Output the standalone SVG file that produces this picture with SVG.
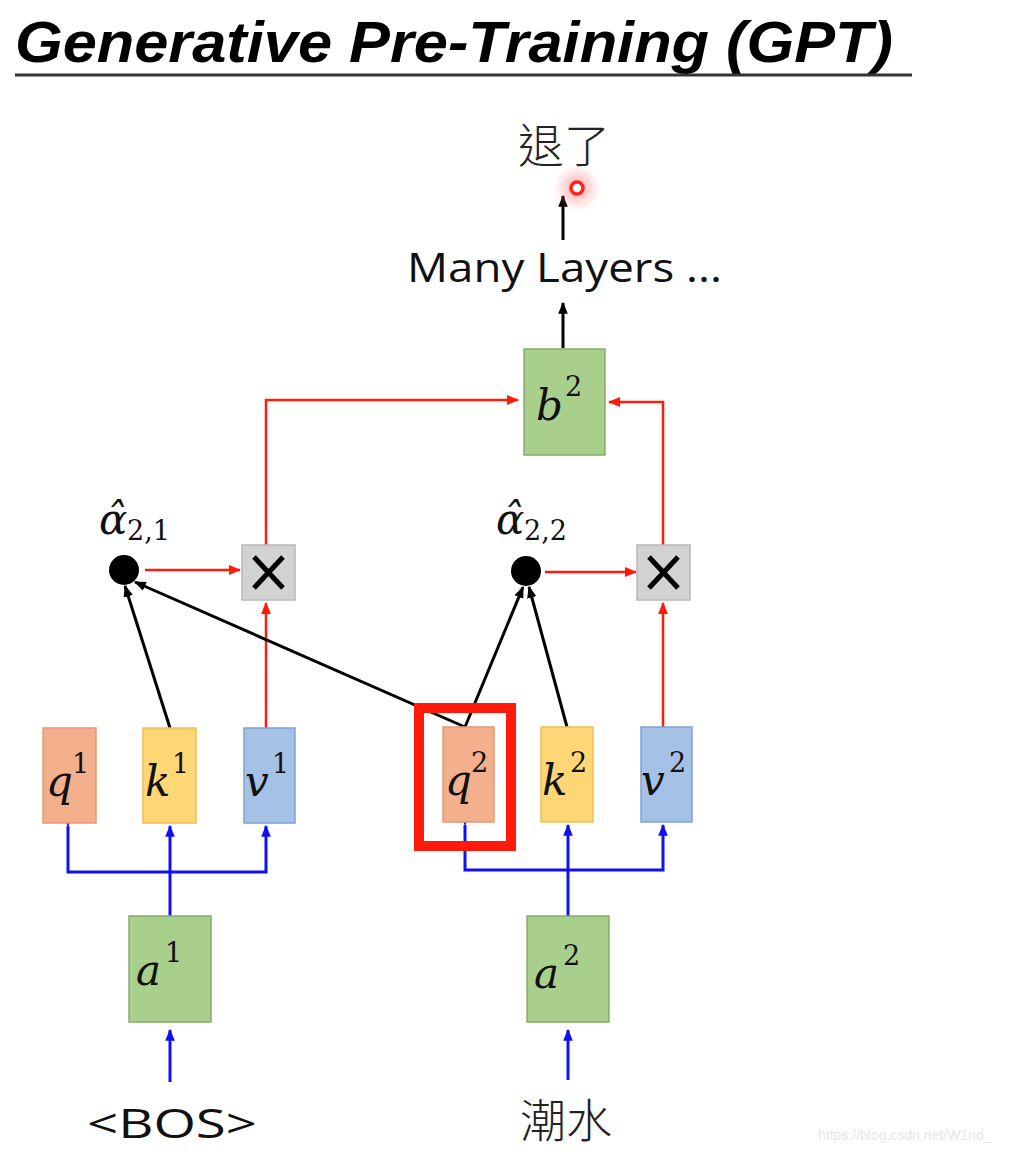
<svg xmlns="http://www.w3.org/2000/svg" width="1023" height="1152" viewBox="0 0 1023 1152">
<defs>
<style>
.title{font-family:"Liberation Sans","Open Sans",sans-serif;font-weight:bold;font-style:italic;font-size:58px;fill:#000}
.lbl{font-family:"Open Sans","Liberation Sans",sans-serif;font-size:40px;fill:#111}
.cjk{font-family:"Noto Sans CJK TC","Noto Sans CJK SC",sans-serif;font-size:46px;fill:#222}
.m{font-family:"DejaVu Serif","Liberation Serif",serif;font-style:italic;font-size:42px;fill:#111}
.sup{font-family:"DejaVu Serif","Liberation Serif",serif;font-size:27px;fill:#111}
.green{fill:#a9cf8d;stroke:#86ab6c;stroke-width:1.5}
.q{fill:#f4b08c;stroke:#e59a72;stroke-width:1.5}
.k{fill:#ffd675;stroke:#f0c050;stroke-width:1.5}
.v{fill:#a6c1e6;stroke:#7fa3d2;stroke-width:1.5}
.x{fill:#d2d2d2;stroke:#b8b8b8;stroke-width:1.5}
.red{stroke:#ff1a0a;stroke-width:2.5;fill:none}
.blue{stroke:#1010f0;stroke-width:3;fill:none}
.blk{stroke:#000;stroke-width:3;fill:none}
</style>
<marker id="ar" viewBox="0 0 10 10" refX="9" refY="5" markerWidth="5" markerHeight="5" orient="auto" markerUnits="strokeWidth"><path d="M0,1 L10,5 L0,9 z" fill="#ff1a0a"/></marker>
<marker id="ab" viewBox="0 0 10 10" refX="9" refY="5" markerWidth="4" markerHeight="4" orient="auto" markerUnits="strokeWidth"><path d="M0,1 L10,5 L0,9 z" fill="#1010f0"/></marker>
<marker id="ak" viewBox="0 0 10 10" refX="9" refY="5" markerWidth="4" markerHeight="4" orient="auto" markerUnits="strokeWidth"><path d="M0,1 L10,5 L0,9 z" fill="#000"/></marker>
<radialGradient id="glow"><stop offset="0" stop-color="#ff5050" stop-opacity="0.55"/><stop offset="0.6" stop-color="#ff8080" stop-opacity="0.25"/><stop offset="1" stop-color="#ffa0a0" stop-opacity="0"/></radialGradient>
</defs>
<rect width="1023" height="1152" fill="#fff"/>

<g id="title">
<text class="title" x="15" y="62" textLength="878" lengthAdjust="spacingAndGlyphs">Generative Pre-Training (GPT)</text>
<line x1="15" y1="75" x2="912" y2="75" stroke="#333" stroke-width="3"/>
</g>

<g id="connectors">
<line class="blk" x1="563" y1="240" x2="563" y2="196" marker-end="url(#ak)"/>
<line class="blk" x1="563" y1="348" x2="563" y2="303" marker-end="url(#ak)"/>
<polyline class="red" points="266,545 266,400 518,400" marker-end="url(#ar)"/>
<polyline class="red" points="663,545 663,402 609,402" marker-end="url(#ar)"/>
<line class="red" x1="145" y1="570" x2="240" y2="570" marker-end="url(#ar)"/>
<line class="red" x1="545" y1="572" x2="636" y2="572" marker-end="url(#ar)"/>
<line class="red" x1="266" y1="728" x2="266" y2="603" marker-end="url(#ar)"/>
<line class="red" x1="663" y1="727" x2="663" y2="603" marker-end="url(#ar)"/>
<line class="blk" x1="170" y1="728" x2="125" y2="586" marker-end="url(#ak)"/>
<line class="blk" x1="465" y1="727" x2="135" y2="582" marker-end="url(#ak)"/>
<line class="blk" x1="465" y1="727" x2="523" y2="587" marker-end="url(#ak)"/>
<line class="blk" x1="567" y1="727" x2="529" y2="587" marker-end="url(#ak)"/>
<polyline class="blue" points="68,826 68,872 266,872 266,826" marker-start="url(#ab)" marker-end="url(#ab)"/>
<line class="blue" x1="170" y1="916" x2="170" y2="826" marker-end="url(#ab)"/>
<polyline class="blue" points="465,825 465,870 663,870 663,825" marker-start="url(#ab)" marker-end="url(#ab)"/>
<line class="blue" x1="568" y1="916" x2="568" y2="825" marker-end="url(#ab)"/>
<line class="blue" x1="170" y1="1082" x2="170" y2="1030" marker-end="url(#ab)"/>
<line class="blue" x1="568" y1="1080" x2="568" y2="1030" marker-end="url(#ab)"/>
</g>

<g id="output">
<text class="cjk" x="564" y="162" text-anchor="middle" font-weight="300">退了</text>
</g>
<g id="pointer">
<circle cx="577" cy="188" r="24" fill="url(#glow)"/>
<circle cx="577" cy="188" r="6" fill="#fff" stroke="#ff2020" stroke-width="3.5"/>
</g>
<g id="many-layers">
<text class="lbl" x="407" y="282" textLength="315" lengthAdjust="spacingAndGlyphs">Many Layers ...</text>
</g>

<g id="b2">
<rect class="green" x="524" y="349" width="81" height="106"/>
<text class="m" x="536" y="420">b</text><text class="sup" x="565" y="396">2</text>
</g>

<g id="alpha21">
<text class="m" x="99" y="534">α̂</text>
<text class="sup" x="127" y="540">2,1</text>
<circle cx="124" cy="570" r="15" fill="#000"/>
</g>
<g id="alpha22">
<text class="m" x="496" y="534">α̂</text>
<text class="sup" x="524" y="540">2,2</text>
<circle cx="526" cy="571" r="15" fill="#000"/>
</g>

<g id="mul1">
<rect class="x" x="242" y="545" width="53" height="55"/>
<path d="M254,557 L283,588 M283,557 L254,588" stroke="#000" stroke-width="5"/>
</g>
<g id="mul2">
<rect class="x" x="637" y="545" width="53" height="55"/>
<path d="M649,557 L678,588 M678,557 L649,588" stroke="#000" stroke-width="5"/>
</g>

<g id="q1"><rect class="q" x="43" y="728" width="53" height="95"/><text class="m" x="46" y="796">q</text><text class="sup" x="72" y="773">1</text></g>
<g id="k1"><rect class="k" x="143" y="728" width="53" height="95"/><text class="m" x="145" y="796">k</text><text class="sup" x="172" y="773">1</text></g>
<g id="v1"><rect class="v" x="244" y="728" width="51" height="95"/><text class="m" x="245" y="796">v</text><text class="sup" x="272" y="773">1</text></g>

<g id="q2"><rect class="q" x="443" y="727" width="51" height="95"/><text class="m" x="445" y="795">q</text><text class="sup" x="471" y="772">2</text></g>
<g id="q2-highlight"><rect x="419" y="708" width="92" height="138" fill="none" stroke="#ff1a0a" stroke-width="10"/></g>
<g id="k2"><rect class="k" x="541" y="727" width="52" height="95"/><text class="m" x="542" y="795">k</text><text class="sup" x="570" y="772">2</text></g>
<g id="v2"><rect class="v" x="641" y="727" width="51" height="95"/><text class="m" x="641" y="795">v</text><text class="sup" x="669" y="772">2</text></g>

<g id="a1"><rect class="green" x="129" y="916" width="82" height="106"/><text class="m" x="136" y="985">a</text><text class="sup" x="165" y="962">1</text></g>
<g id="a2"><rect class="green" x="527" y="916" width="82" height="106"/><text class="m" x="534" y="988">a</text><text class="sup" x="563" y="965">2</text></g>

<g id="bos"><text class="lbl" x="172" y="1138" text-anchor="middle" font-size="46" textLength="170" lengthAdjust="spacingAndGlyphs">&lt;BOS&gt;</text></g>
<g id="chaoshui"><text class="cjk" x="566" y="1137" text-anchor="middle" font-size="46" font-weight="300">潮水</text></g>
<g id="watermark"><text x="818" y="1140" font-family="Liberation Sans,sans-serif" font-size="14" fill="#e6e6e6">https://blog.csdn.net/W1nd_</text></g>
</svg>
